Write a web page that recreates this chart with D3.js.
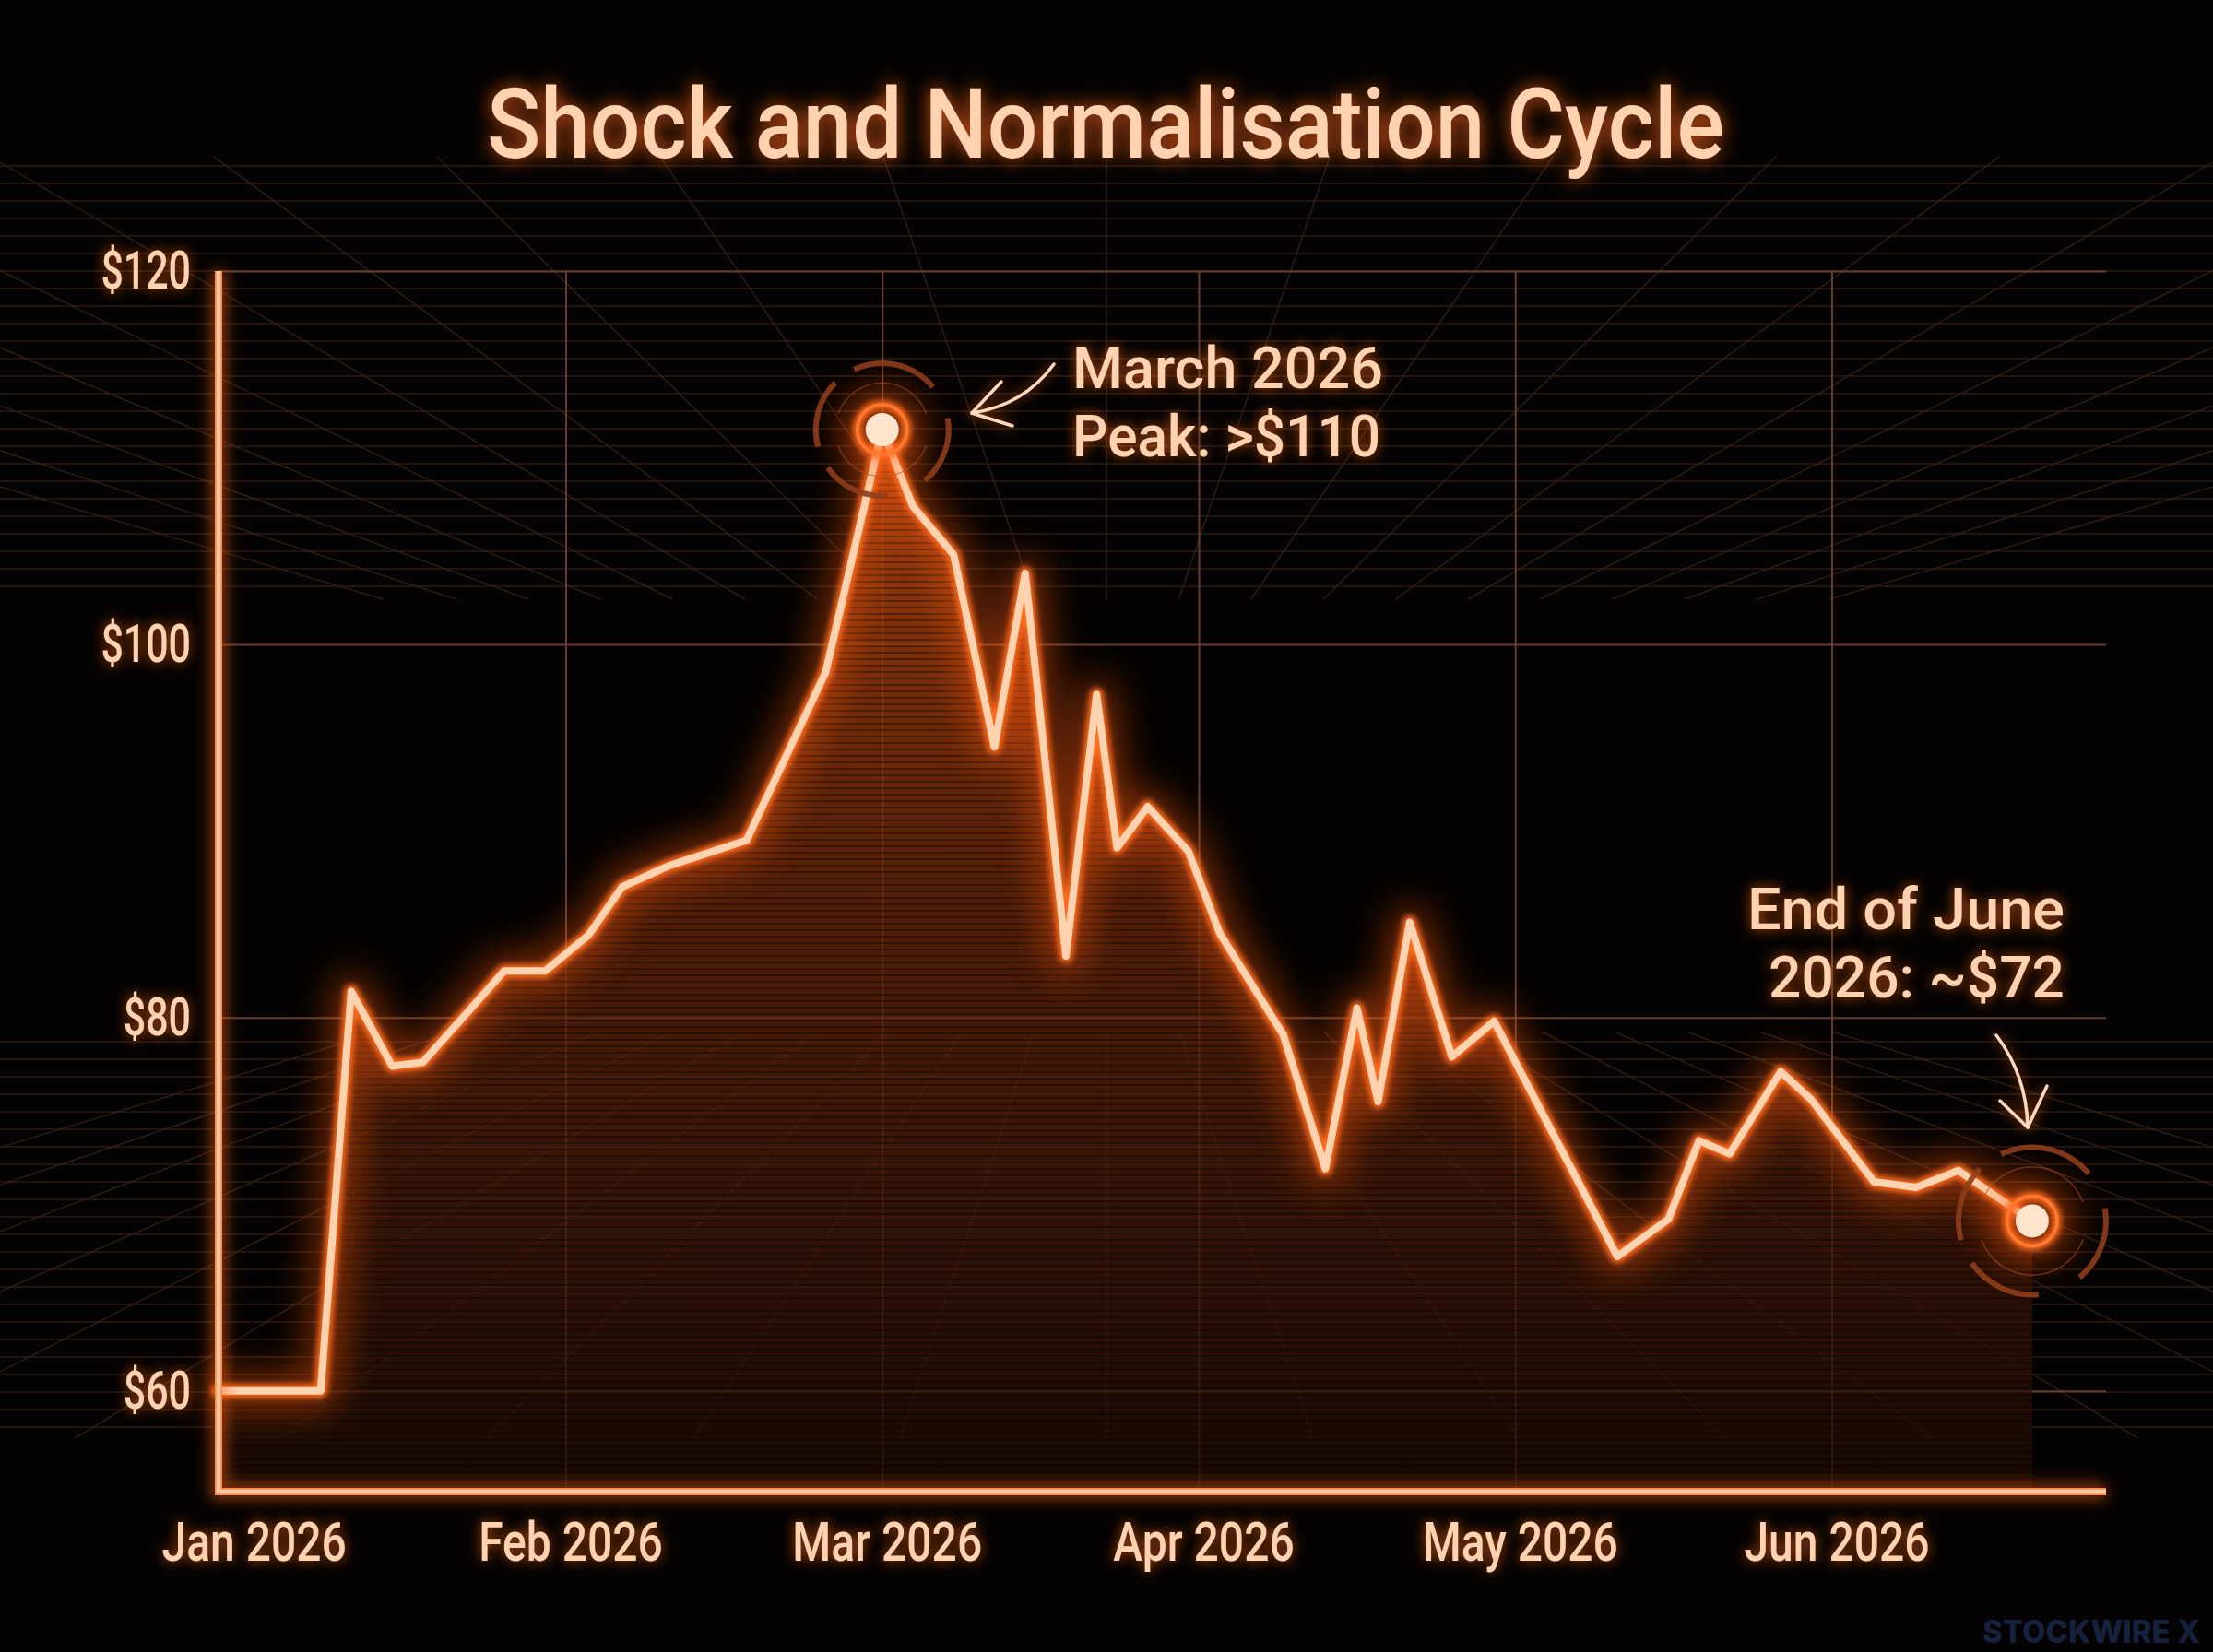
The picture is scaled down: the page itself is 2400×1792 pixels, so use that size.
<!DOCTYPE html>
<html>
<head>
<meta charset="utf-8">
<script src="https://cdn.jsdelivr.net/npm/d3@7"></script>
<style>
  html, body { margin: 0; background: #040202; }
  svg { display: block; }
</style>
</head>
<body>
<svg id="chart" width="2400" height="1792"></svg>
<script>
"use strict";

// ---- data ----
const dates = ["2025-12-29","2026-01-08","2026-01-11","2026-01-15","2026-01-18","2026-01-26","2026-01-30",
  "2026-02-03","2026-02-06","2026-02-10","2026-02-17","2026-02-24","2026-03-01","2026-03-04","2026-03-08",
  "2026-03-12","2026-03-15","2026-03-19","2026-03-22","2026-03-24","2026-03-27","2026-03-31","2026-04-03",
  "2026-04-09","2026-04-13","2026-04-16","2026-04-18","2026-04-21","2026-04-25","2026-04-29","2026-05-11",
  "2026-05-16","2026-05-19","2026-05-22","2026-05-27","2026-05-30","2026-06-05","2026-06-09","2026-06-13",
  "2026-06-20"];
const prices = [60.0,60.0,81.4,77.4,77.6,82.5,82.5,84.4,87.0,88.1,89.5,98.5,111.5,107.4,104.8,
  94.5,103.8,83.3,97.3,89.1,91.3,88.9,84.5,79.1,71.9,80.5,75.5,85.1,77.9,79.8,67.2,
  69.2,73.4,72.7,77.1,75.6,71.2,70.9,71.8,69.1];
const monthTicks = [0, 1, 2, 3, 4, 5];
const monthLabels = ["Jan 2026","Feb 2026","Mar 2026","Apr 2026","May 2026","Jun 2026"];
const priceTicks = [60, 80, 100, 120];
const priceDomain = [54.6, 120];
const rangeEnd = "2026-06-27";
const titleText = "Shock and Normalisation Cycle";
const peakNote = ["March 2026", "Peak: >$110"];
const endNote = ["End of June", "2026: ~$72"];
const brand = "STOCKWIRE X";

const W = 2400, H = 1792;
const plot = {l: 237, r: 2284, t: 294, b: 1618};
const FONT = "Roboto, 'Noto Sans', sans-serif";
const PEACH = "#ffd3b0";

// months since Jan 2026, with the day as a fraction of its month
function monthPos(s) {
  const d = new Date(s + "T00:00:00Z");
  const m = (d.getUTCFullYear() - 2026) * 12 + d.getUTCMonth();
  const dim = new Date(Date.UTC(d.getUTCFullYear(), d.getUTCMonth() + 1, 0)).getUTCDate();
  return m + (d.getUTCDate() - 1) / dim;
}

const data = dates.map((d, i) => ({t: monthPos(d), v: prices[i]}));

const x = d3.scaleLinear().domain([monthPos(dates[0]), monthPos(rangeEnd)]).range([plot.l, plot.r]);
const y = d3.scaleLinear().domain(priceDomain).range([plot.b, plot.t]);

const svg = d3.select("#chart");
const defs = svg.append("defs");

function blur(id, sd) {
  defs.append("filter").attr("id", id)
    .attr("x", "-50%").attr("y", "-50%").attr("width", "200%").attr("height", "200%")
    .append("feGaussianBlur").attr("stdDeviation", sd);
}
blur("blur20", 20); blur("blur8", 8); blur("blur3", 3);

function glow(id, sd, op) {
  const f = defs.append("filter").attr("id", id)
    .attr("x", "-20%").attr("y", "-60%").attr("width", "140%").attr("height", "220%");
  f.append("feGaussianBlur").attr("in", "SourceAlpha").attr("stdDeviation", sd).attr("result", "b");
  f.append("feFlood").attr("flood-color", "#ff6414").attr("flood-opacity", op);
  f.append("feComposite").attr("in2", "b").attr("operator", "in").attr("result", "g");
  const m = f.append("feMerge");
  m.append("feMergeNode").attr("in", "g");
  m.append("feMergeNode").attr("in", "SourceGraphic");
}
glow("titleGlow", 10, 0.9);
glow("textGlow", 7, 0.75);

// area gradient + scanlines
const grad = defs.append("linearGradient").attr("id", "areaGrad")
  .attr("gradientUnits", "userSpaceOnUse").attr("x1", 0).attr("x2", 0)
  .attr("y1", y(112)).attr("y2", plot.b);
grad.append("stop").attr("offset", "0%").attr("stop-color", "#c04a10").attr("stop-opacity", 0.85);
grad.append("stop").attr("offset", "45%").attr("stop-color", "#6e280b").attr("stop-opacity", 0.72);
grad.append("stop").attr("offset", "100%").attr("stop-color", "#1c0b05").attr("stop-opacity", 0.75);

const scan = defs.append("pattern").attr("id", "scan").attr("patternUnits", "userSpaceOnUse")
  .attr("width", 8).attr("height", 7);
scan.append("rect").attr("width", 8).attr("height", 2).attr("fill", "#000").attr("opacity", 0.35);

svg.append("rect").attr("width", W).attr("height", H).attr("fill", "#040202");

// ---- perspective backdrop ----
const clip = defs.append("clipPath").attr("id", "bands");
clip.append("rect").attr("x", 0).attr("y", 170).attr("width", W).attr("height", 480);
clip.append("rect").attr("x", 0).attr("y", 1120).attr("width", W).attr("height", 440);

const back = svg.append("g").attr("clip-path", "url(#bands)")
  .attr("stroke", "#3a2419").attr("stroke-width", 1.5).attr("fill", "none");
d3.range(180, 650, 19).concat(d3.range(1130, 1560, 19)).forEach(yy => {
  back.append("line").attr("x1", 0).attr("x2", W).attr("y1", yy).attr("y2", yy).attr("opacity", 0.75);
});
const vp = [1200, 880];
d3.range(-1800, 4300, 300).forEach(xx => {
  back.append("line").attr("x1", vp[0]).attr("y1", vp[1]).attr("x2", xx).attr("y2", 0).attr("opacity", 0.8);
  back.append("line").attr("x1", vp[0]).attr("y1", vp[1]).attr("x2", xx).attr("y2", H).attr("opacity", 0.8);
});

// ---- grid ----
const gridY = svg.append("g").attr("transform", `translate(${plot.l},0)`)
  .call(d3.axisLeft(y).tickValues(priceTicks).tickSize(-(plot.r - plot.l)).tickFormat(""));
const gridX = svg.append("g").attr("transform", `translate(0,${plot.b})`)
  .call(d3.axisBottom(x).tickValues(monthTicks.slice(1)).tickSize(-(plot.b - plot.t)).tickFormat(""));
[gridY, gridX].forEach(g => {
  g.select(".domain").remove();
  g.selectAll("line").attr("stroke", "#7a4c37").attr("stroke-width", 2).attr("opacity", 0.8);
});

// ---- area + line ----
const area = d3.area().x(d => x(d.t)).y0(plot.b).y1(d => y(d.v));
const line = d3.line().x(d => x(d.t)).y(d => y(d.v));

svg.append("path").attr("d", area(data)).attr("fill", "url(#areaGrad)");
svg.append("path").attr("d", area(data)).attr("fill", "url(#scan)");

const lineG = svg.append("g").attr("fill", "none").attr("stroke-linejoin", "round").attr("stroke-linecap", "round");
lineG.append("path").attr("d", line(data)).attr("stroke", "#ff5a10").attr("stroke-width", 36)
  .attr("opacity", 0.5).attr("filter", "url(#blur20)");
lineG.append("path").attr("d", line(data)).attr("stroke", "#ff6a1e").attr("stroke-width", 15)
  .attr("filter", "url(#blur3)");
lineG.append("path").attr("d", line(data)).attr("stroke", PEACH).attr("stroke-width", 8);

// ---- axis lines ----
const axisPath = `M${plot.l},${plot.t}V${plot.b}H${plot.r}`;
const axG = svg.append("g").attr("fill", "none");
axG.append("path").attr("d", axisPath).attr("stroke", "#ff6414").attr("stroke-width", 18)
  .attr("opacity", 0.5).attr("filter", "url(#blur8)");
axG.append("path").attr("d", axisPath).attr("stroke", "#ff8a45").attr("stroke-width", 8);
axG.append("path").attr("d", axisPath).attr("stroke", "#ffc9a2").attr("stroke-width", 4.5);

// ---- tick labels ----
function condense(sel, k) {
  sel.each(function () {
    const w = this.getComputedTextLength();
    d3.select(this).attr("textLength", w * k).attr("lengthAdjust", "spacingAndGlyphs");
  });
}

const yAxis = svg.append("g").attr("transform", `translate(${plot.l},0)`)
  .call(d3.axisLeft(y).tickValues(priceTicks).tickSize(0).tickPadding(30).tickFormat(d => "$" + d));
const xAxis = svg.append("g").attr("transform", `translate(0,${plot.b})`)
  .call(d3.axisBottom(x).tickValues(monthTicks).tickSize(0).tickPadding(32).tickFormat(d => monthLabels[d]));
[yAxis, xAxis].forEach(g => {
  g.select(".domain").remove();
  g.attr("font-family", FONT);
  g.selectAll("text").attr("fill", PEACH).attr("font-weight", 500).attr("filter", "url(#textGlow)");
});
yAxis.attr("font-size", 58);
xAxis.attr("font-size", 60);
xAxis.selectAll("text").attr("dx", 5);
condense(yAxis.selectAll("text"), 0.74);
condense(xAxis.selectAll("text"), 0.8);

// ---- title ----
svg.append("text").attr("x", 1199).attr("y", 171).attr("text-anchor", "middle")
  .attr("font-family", FONT).attr("font-size", 106).attr("font-weight", 500)
  .attr("fill", PEACH).attr("textLength", 1342).attr("lengthAdjust", "spacingAndGlyphs")
  .attr("filter", "url(#titleGlow)").text(titleText);

// ---- markers ----
const outerArcs = [[-25, 50], [80, 140], [175, 235], [255, 315]];
const thinArcs = [[-70, 70], [110, 250]];
const rad = Math.PI / 180;

function marker(d, rOuter) {
  const g = svg.append("g").attr("transform", `translate(${x(d.t)},${y(d.v)})`);
  g.append("circle").attr("r", 46).attr("fill", "#ff5a10").attr("opacity", 0.45).attr("filter", "url(#blur20)");
  outerArcs.forEach(a => {
    g.append("path").attr("fill", "#8e3d19").attr("opacity", 0.9)
      .attr("d", d3.arc()({innerRadius: rOuter - 3, outerRadius: rOuter + 3, startAngle: a[0] * rad, endAngle: a[1] * rad}));
  });
  thinArcs.forEach(a => {
    g.append("path").attr("fill", "#a9502a").attr("opacity", 0.55)
      .attr("d", d3.arc()({innerRadius: rOuter - 22, outerRadius: rOuter - 20.5, startAngle: a[0] * rad, endAngle: a[1] * rad}));
  });
  g.append("circle").attr("r", 27).attr("fill", "none").attr("stroke", "#ff6a1e").attr("stroke-width", 9)
    .attr("filter", "url(#blur3)");
  g.append("circle").attr("r", 27).attr("fill", "none").attr("stroke", "#ff7a30").attr("stroke-width", 3.5);
  g.append("circle").attr("r", 18).attr("fill", "#ffe3cd");
}
const peak = data[d3.maxIndex(data, d => d.v)];
marker(peak, 72);
marker(data[data.length - 1], 80);

// ---- annotations ----
function note(lines, xx, y0, anchor, widths) {
  const t = svg.append("text").attr("font-family", FONT).attr("font-size", 63).attr("font-weight", 500)
    .attr("fill", PEACH).attr("text-anchor", anchor).attr("filter", "url(#textGlow)");
  lines.forEach((s, i) => {
    t.append("tspan").attr("x", xx).attr("y", y0 + i * 74)
      .attr("textLength", widths[i]).attr("lengthAdjust", "spacingAndGlyphs").text(s);
  });
}
note(peakNote, 1163, 421, "start", [337, 334]);
note(endNote, 2239, 1008, "end", [344, 321]);

const arrows = svg.append("g").attr("fill", "none").attr("stroke", "#ffd9bd").attr("stroke-width", 3.5)
  .attr("stroke-linecap", "round").attr("stroke-linejoin", "round").attr("filter", "url(#textGlow)");
arrows.append("path").attr("d", "M1143,395 Q1110,440 1054,448");
arrows.append("path").attr("d", "M1086,414 L1054,448 L1098,462");
arrows.append("path").attr("d", "M2165,1123 Q2198,1167 2199,1223");
arrows.append("path").attr("d", "M2169,1194 L2199,1223 L2220,1178");

// ---- brand mark ----
svg.append("text").attr("x", 2150).attr("y", 1782)
  .attr("font-family", "Inter, 'Open Sans', sans-serif").attr("font-weight", 800).attr("font-size", 34)
  .attr("fill", "#15213d").attr("textLength", 236).attr("lengthAdjust", "spacingAndGlyphs").text(brand);
</script>
</body>
</html>
